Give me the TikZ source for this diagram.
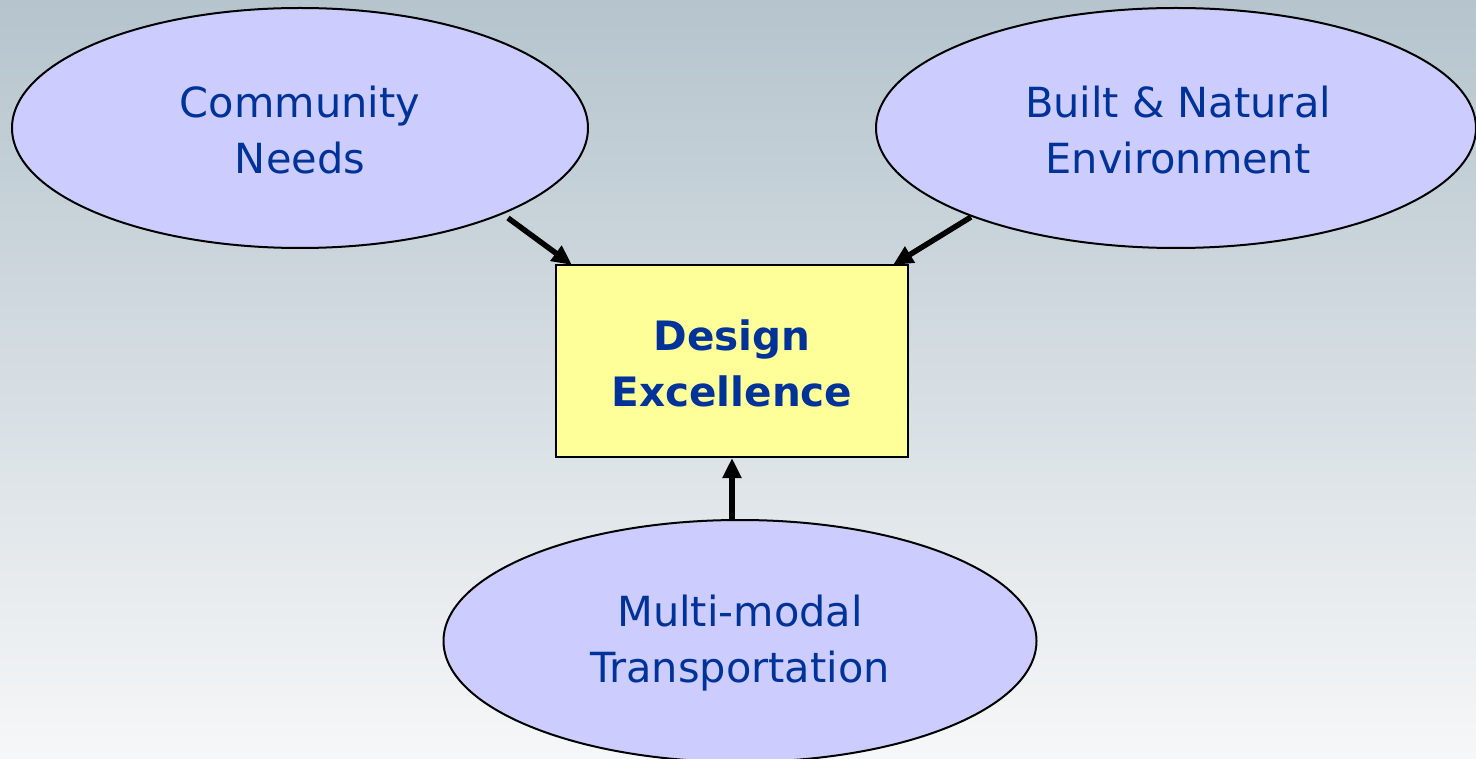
\documentclass[tikz,border=0pt]{standalone}
\usepackage{fontspec}
\setmainfont{DejaVu Sans}
\usetikzlibrary{shapes.geometric,arrows.meta}
\definecolor{txtblue}{RGB}{0,51,153}
\definecolor{ellfill}{RGB}{204,204,255}
\definecolor{boxfill}{RGB}{255,255,153}
\definecolor{bgtop}{RGB}{181,196,205}
\definecolor{bgbot}{RGB}{246,247,248}
\tikzset{
  ell/.style={ellipse,draw=black,line width=2pt,fill=ellfill,inner sep=0pt},
  lbl/.style={text=txtblue,align=center,font=\fontsize{41.5}{56}\selectfont},
  boxn/.style={draw=black,line width=2pt,fill=boxfill,inner sep=0pt},
  conn/.style={line width=5.5pt,-{Triangle[length=20pt,width=18pt]}}
}
\begin{document}
\begin{tikzpicture}[x=1pt,y=-1pt]
\shade[top color=bgtop,bottom color=bgbot] (0,0) rectangle (1476,759);
\useasboundingbox (0,0) rectangle (1476,759);
\node[ell,minimum width=576pt,minimum height=240pt] (cn) at (300,128) {};
\node[lbl] (cnt) at (300,130) {Community\\Needs};
\node[ell,minimum width=600pt,minimum height=240pt] (bn) at (1176,128) {};
\node[lbl] (bnt) at (1178,130) {Built \& Natural\\Environment};
\node[ell,minimum width=593pt,minimum height=242pt] (mm) at (740,641) {};
\node[lbl] (mmt) at (740,643) {Multi-modal\\Transportation};
\node[boxn,minimum width=352pt,minimum height=192pt] (de) at (732,361) {};
\node[lbl,font=\fontsize{40.5}{56}\selectfont\bfseries] (det) at (732,363) {Design\\Excellence};
\coordinate (a1) at (508,218);
\coordinate (e1) at (572,265);
\coordinate (a2) at (971,217);
\coordinate (e2) at (893,265);
\coordinate (a3) at (732,520);
\draw[conn] (a1) -- (e1);
\draw[conn] (a2) -- (e2);
\draw[conn] (a3) -- (de.south);
\end{tikzpicture}
\end{document}
